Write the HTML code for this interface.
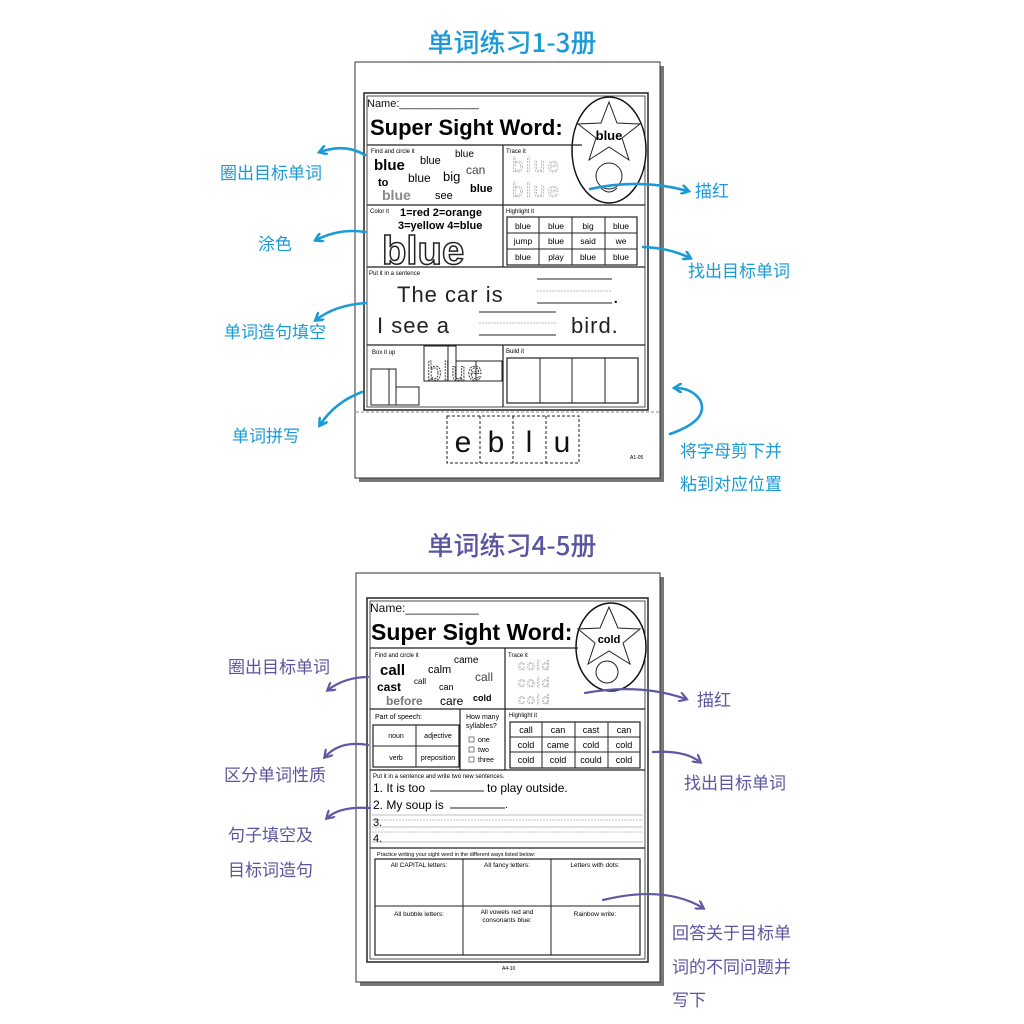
<!DOCTYPE html>
<html><head><meta charset="utf-8"><style>
html,body{margin:0;padding:0;background:#fff;}
svg{display:block;}
text{font-family:"Liberation Sans","Noto Sans CJK SC",sans-serif;}
.cn{font-family:"Noto Sans CJK SC","WenQuanYi Zen Hei",sans-serif;}
</style></head><body>
<svg width="1024" height="1024" viewBox="0 0 1024 1024" xmlns="http://www.w3.org/2000/svg">
<defs>
<marker id="hb" markerWidth="10" markerHeight="10" refX="7" refY="5" orient="auto" markerUnits="userSpaceOnUse"><path d="M0,0 L8,5 L0,10" fill="none" stroke="#1a9ad6" stroke-width="2.6" stroke-linecap="round"/></marker>
<marker id="hp" markerWidth="10" markerHeight="10" refX="7" refY="5" orient="auto" markerUnits="userSpaceOnUse"><path d="M0,0 L8,5 L0,10" fill="none" stroke="#5f58a3" stroke-width="2.2" stroke-linecap="round"/></marker>
</defs>

<!-- Titles -->
<text x="512" y="52" text-anchor="middle" class="cn" font-size="26" fill="#1a9ad6" font-weight="500">单词练习1-3册</text>
<text x="512" y="555" text-anchor="middle" class="cn" font-size="26" fill="#5b55a0" font-weight="500">单词练习4-5册</text>

<!-- ===== TOP PAGE ===== -->
<rect x="359" y="66" width="305" height="416" fill="#777"/>
<rect x="355" y="62" width="305" height="416" fill="#fff" stroke="#333" stroke-width="1"/>
<rect x="364" y="93" width="284" height="317" fill="none" stroke="#222" stroke-width="1.5"/>
<rect x="367" y="96" width="278" height="311" fill="none" stroke="#222" stroke-width="0.8"/>
<text x="367" y="107" font-size="11" fill="#111">Name:_____________</text>
<text x="370" y="135" font-size="22" font-weight="bold" fill="#000">Super Sight Word:</text>
<!-- oval -->
<ellipse cx="609" cy="150" rx="37" ry="53" fill="#fff" stroke="#111" stroke-width="1.5"/>
<path d="M609,102 L617,123 L640,124 L622,138 L629,160 L609,147 L589,160 L596,138 L578,124 L601,123 Z" fill="#fff" stroke="#222"/>
<text x="609" y="140" text-anchor="middle" font-size="13" font-weight="bold">blue</text>
<circle cx="609" cy="176" r="13" fill="#fff" stroke="#222"/>
<path d="M601,188 Q609,196 617,188" fill="none" stroke="#222"/>
<!-- grid lines -->
<line x1="367" y1="145" x2="582" y2="145" stroke="#222" stroke-width="1.2"/>
<line x1="367" y1="205" x2="645" y2="205" stroke="#222" stroke-width="1.2"/>
<line x1="367" y1="267" x2="645" y2="267" stroke="#222" stroke-width="1.2"/>
<line x1="367" y1="345" x2="645" y2="345" stroke="#222" stroke-width="1.2"/>
<line x1="503" y1="145" x2="503" y2="267" stroke="#222" stroke-width="1.2"/>
<line x1="503" y1="345" x2="503" y2="407" stroke="#222" stroke-width="1.2"/>
<!-- find -->
<text x="371" y="153" font-size="6">Find and circle it</text>
<text x="374" y="170" font-size="15" font-weight="bold">blue</text>
<text x="420" y="164" font-size="11">blue</text>
<text x="455" y="157" font-size="10">blue</text>
<text x="466" y="174" font-size="12" fill="#444">can</text>
<text x="378" y="186" font-size="11" font-weight="bold">to</text>
<text x="408" y="182" font-size="12">blue</text>
<text x="443" y="181" font-size="13">big</text>
<text x="470" y="192" font-size="11" font-weight="bold">blue</text>
<text x="382" y="200" font-size="14" font-weight="bold" fill="#888">blue</text>
<text x="435" y="199" font-size="11">see</text>
<!-- trace -->
<text x="506" y="153" font-size="6">Trace it</text>
<text x="512" y="172" font-size="20" fill="none" stroke="#999" stroke-width="0.6" stroke-dasharray="2 1" letter-spacing="3">blue</text>
<text x="512" y="197" font-size="20" fill="none" stroke="#999" stroke-width="0.6" stroke-dasharray="2 1" letter-spacing="3">blue</text>
<!-- color -->
<text x="370" y="213" font-size="6">Color it</text>
<text x="400" y="216" font-size="11" font-weight="bold">1=red 2=orange</text>
<text x="398" y="229" font-size="11" font-weight="bold">3=yellow 4=blue</text>
<text x="382" y="264" font-size="40" font-weight="bold" fill="#fff" stroke="#222" stroke-width="1.5">blue</text>
<!-- highlight -->
<text x="506" y="213" font-size="6">Highlight it</text>
<rect x="507" y="217" width="130" height="48" fill="none" stroke="#222" stroke-width="1.2"/>
<g stroke="#222" stroke-width="1"><line x1="539" y1="217" x2="539" y2="265"/><line x1="572" y1="217" x2="572" y2="265"/><line x1="605" y1="217" x2="605" y2="265"/><line x1="507" y1="233" x2="637" y2="233"/><line x1="507" y1="249" x2="637" y2="249"/></g>
<g font-size="8.5" text-anchor="middle">
<text x="523" y="229">blue</text><text x="556" y="229">blue</text><text x="588" y="229">big</text><text x="621" y="229">blue</text>
<text x="523" y="244">jump</text><text x="556" y="244">blue</text><text x="588" y="244">said</text><text x="621" y="244">we</text>
<text x="523" y="260">blue</text><text x="556" y="260">play</text><text x="588" y="260">blue</text><text x="621" y="260">blue</text></g>
<!-- sentence -->
<text x="369" y="275" font-size="6">Put it in a sentence</text>
<text x="397" y="302" font-size="22" fill="#222" letter-spacing="1">The  car  is</text>
<line x1="537" y1="279" x2="612" y2="279" stroke="#222"/><line x1="537" y1="291" x2="612" y2="291" stroke="#bbb" stroke-dasharray="2 1"/><line x1="537" y1="303" x2="612" y2="303" stroke="#222"/>
<text x="613" y="303" font-size="20">.</text>
<text x="377" y="333" font-size="22" fill="#222" letter-spacing="1">I  see  a</text>
<line x1="479" y1="312" x2="556" y2="312" stroke="#222"/><line x1="479" y1="323" x2="556" y2="323" stroke="#bbb" stroke-dasharray="2 1"/><line x1="479" y1="335" x2="556" y2="335" stroke="#222"/>
<text x="571" y="333" font-size="22" fill="#222" letter-spacing="1">bird.</text>
<!-- box it up -->
<text x="372" y="354" font-size="6">Box it up</text>
<rect x="371" y="369" width="18" height="36" fill="none" stroke="#222"/>
<rect x="389" y="369" width="7" height="36" fill="none" stroke="#222"/>
<rect x="396" y="387" width="23" height="18" fill="none" stroke="#222"/>
<rect x="424" y="346" width="24" height="35" fill="none" stroke="#222"/>
<rect x="448" y="346" width="8" height="35" fill="none" stroke="#222"/>
<rect x="456" y="361" width="20" height="20" fill="none" stroke="#222"/>
<rect x="476" y="361" width="26" height="20" fill="none" stroke="#222"/>
<text x="427" y="380" font-size="26" fill="none" stroke="#444" stroke-dasharray="2 1" letter-spacing="2">blue</text>
<!-- build -->
<text x="506" y="353" font-size="6">Build it</text>
<rect x="507" y="358" width="131" height="45" fill="none" stroke="#222" stroke-width="1.2"/>
<g stroke="#222"><line x1="540" y1="358" x2="540" y2="403"/><line x1="572" y1="358" x2="572" y2="403"/><line x1="605" y1="358" x2="605" y2="403"/></g>
<line x1="356" y1="412" x2="659" y2="412" stroke="#888" stroke-dasharray="3 2"/>
<rect x="447" y="416" width="132" height="47" fill="none" stroke="#222" stroke-dasharray="3 2"/>
<g stroke="#222" stroke-dasharray="3 2"><line x1="480" y1="416" x2="480" y2="463"/><line x1="513" y1="416" x2="513" y2="463"/><line x1="546" y1="416" x2="546" y2="463"/></g>
<g font-size="30" text-anchor="middle" fill="#111"><text x="463" y="452">e</text><text x="496" y="452">b</text><text x="529" y="452">l</text><text x="562" y="452">u</text></g>
<text x="630" y="459" font-size="5">A1-05</text>

<!-- top arrows -->
<g fill="none" stroke="#1a9ad6" stroke-width="2.6" stroke-linecap="round">
<path d="M365,155 Q345,143 320,152" marker-end="url(#hb)"/>
<path d="M365,232 Q340,228 316,240" marker-end="url(#hb)"/>
<path d="M366,303 Q335,305 316,320" marker-end="url(#hb)"/>
<path d="M362,392 Q335,402 320,425" marker-end="url(#hb)"/>
<path d="M590,189 Q640,178 688,191" marker-end="url(#hb)"/>
<path d="M643,247 Q670,248 690,258" marker-end="url(#hb)"/>
<path d="M670,434 Q710,420 700,400 Q692,388 675,388" marker-end="url(#hb)"/>
</g>
<g class="cn" font-size="17" fill="#1a9ad6">
<text x="220" y="179">圈出目标单词</text>
<text x="258" y="250">涂色</text>
<text x="224" y="338">单词造句填空</text>
<text x="232" y="442">单词拼写</text>
<text x="695" y="197">描红</text>
<text x="688" y="277">找出目标单词</text>
<text x="680" y="457">将字母剪下并</text>
<text x="680" y="490">粘到对应位置</text>
</g>

<!-- ===== BOTTOM PAGE ===== -->
<rect x="360" y="577" width="304" height="409" fill="#777"/>
<rect x="356" y="573" width="304" height="409" fill="#fff" stroke="#333"/>
<rect x="367" y="598" width="281" height="364" fill="none" stroke="#222" stroke-width="1.5"/>
<rect x="370" y="601" width="275" height="358" fill="none" stroke="#222" stroke-width="0.8"/>
<text x="370" y="612" font-size="12" fill="#111">Name:___________</text>
<text x="371" y="640" font-size="23" font-weight="bold">Super Sight Word:</text>
<ellipse cx="611" cy="647" rx="35" ry="44" fill="#fff" stroke="#111" stroke-width="1.5"/>
<path d="M609,607 L618,628 L640,629 L623,643 L630,664 L609,651 L588,664 L595,643 L578,629 L600,628 Z" fill="#fff" stroke="#222"/>
<text x="609" y="643" text-anchor="middle" font-size="11" font-weight="bold">cold</text>
<circle cx="607" cy="672" r="11" fill="#fff" stroke="#222"/>
<g stroke="#222" stroke-width="1.2">
<line x1="370" y1="648" x2="578" y2="648"/>
<line x1="370" y1="709" x2="645" y2="709"/>
<line x1="370" y1="770" x2="645" y2="770"/>
<line x1="370" y1="848" x2="645" y2="848"/>
<line x1="505" y1="648" x2="505" y2="770"/>
<line x1="460" y1="709" x2="460" y2="770"/>
</g>
<text x="375" y="657" font-size="6">Find and circle it</text>
<text x="380" y="675" font-size="15" font-weight="bold">call</text>
<text x="428" y="673" font-size="11">calm</text>
<text x="454" y="663" font-size="10">came</text>
<text x="475" y="681" font-size="12" fill="#444">call</text>
<text x="377" y="691" font-size="12" font-weight="bold">cast</text>
<text x="414" y="684" font-size="8">call</text>
<text x="439" y="690" font-size="9">can</text>
<text x="473" y="701" font-size="9" font-weight="bold">cold</text>
<text x="386" y="705" font-size="12" font-weight="bold" fill="#777">before</text>
<text x="440" y="705" font-size="12">care</text>
<text x="508" y="657" font-size="6">Trace it</text>
<g font-size="14" fill="none" stroke="#999" stroke-width="0.6" stroke-dasharray="2 1" letter-spacing="2">
<text x="518" y="670">cold</text><text x="518" y="687">cold</text><text x="518" y="704">cold</text></g>
<text x="375" y="719" font-size="7">Part of speech:</text>
<rect x="373" y="725" width="86" height="42" fill="none" stroke="#222" stroke-width="1.2"/>
<line x1="416" y1="725" x2="416" y2="767" stroke="#222"/><line x1="373" y1="746" x2="459" y2="746" stroke="#222"/>
<g font-size="7" text-anchor="middle"><text x="396" y="738">noun</text><text x="438" y="738">adjective</text><text x="396" y="760">verb</text><text x="438" y="760">preposition</text></g>
<text x="466" y="719" font-size="7">How many</text><text x="466" y="728" font-size="7">syllables?</text>
<g font-size="7"><rect x="469" y="737" width="5" height="5" fill="none" stroke="#333" stroke-width="0.6"/><text x="478" y="742">one</text>
<rect x="469" y="747" width="5" height="5" fill="none" stroke="#333" stroke-width="0.6"/><text x="478" y="752">two</text>
<rect x="469" y="757" width="5" height="5" fill="none" stroke="#333" stroke-width="0.6"/><text x="478" y="762">three</text></g>
<text x="509" y="717" font-size="6">Highlight it</text>
<rect x="510" y="722" width="130" height="46" fill="none" stroke="#222" stroke-width="1.2"/>
<g stroke="#222"><line x1="542" y1="722" x2="542" y2="768"/><line x1="575" y1="722" x2="575" y2="768"/><line x1="608" y1="722" x2="608" y2="768"/><line x1="510" y1="737" x2="640" y2="737"/><line x1="510" y1="752" x2="640" y2="752"/></g>
<g font-size="9" text-anchor="middle">
<text x="526" y="733">call</text><text x="558" y="733">can</text><text x="591" y="733">cast</text><text x="624" y="733">can</text>
<text x="526" y="748">cold</text><text x="558" y="748">came</text><text x="591" y="748">cold</text><text x="624" y="748">cold</text>
<text x="526" y="763">cold</text><text x="558" y="763">cold</text><text x="591" y="763">could</text><text x="624" y="763">cold</text></g>
<text x="373" y="778" font-size="6">Put it in a sentence and write two new sentences.</text>
<text x="373" y="792" font-size="12">1. It is too</text>
<line x1="430" y1="791" x2="484" y2="791" stroke="#222"/>
<text x="487" y="792" font-size="12">to play outside.</text>
<text x="373" y="809" font-size="12">2. My soup is</text>
<line x1="450" y1="808" x2="505" y2="808" stroke="#222"/><text x="505" y="808" font-size="10">.</text>
<g stroke="#aaa" stroke-width="0.7"><line x1="372" y1="815" x2="643" y2="815"/><line x1="372" y1="820" x2="643" y2="820" stroke-dasharray="2 1"/><line x1="372" y1="827" x2="643" y2="827"/><line x1="372" y1="832" x2="643" y2="832" stroke-dasharray="2 1"/><line x1="372" y1="842" x2="643" y2="842"/></g>
<text x="373" y="826" font-size="11">3.</text><text x="373" y="842" font-size="11">4.</text>
<text x="377" y="856" font-size="5.5">Practice writing your sight word in the different ways listed below:</text>
<rect x="375" y="859" width="265" height="96" fill="none" stroke="#222" stroke-width="1.2"/>
<g stroke="#222"><line x1="463" y1="859" x2="463" y2="955"/><line x1="551" y1="859" x2="551" y2="955"/><line x1="375" y1="906" x2="640" y2="906"/></g>
<g font-size="6.5" text-anchor="middle"><text x="419" y="867">All CAPITAL letters:</text><text x="507" y="867">All fancy letters:</text><text x="595" y="867">Letters with dots:</text>
<text x="419" y="916">All bubble letters:</text><text x="507" y="914">All vowels red and</text><text x="507" y="922">consonants blue:</text><text x="595" y="916">Rainbow write:</text></g>
<text x="502" y="970" font-size="5">A4-10</text>

<g fill="none" stroke="#5f58a3" stroke-width="2.2" stroke-linecap="round">
<path d="M368,677 Q345,677 328,690" marker-end="url(#hp)"/>
<path d="M368,745 Q340,740 325,757" marker-end="url(#hp)"/>
<path d="M370,808 Q340,806 327,818" marker-end="url(#hp)"/>
<path d="M585,693 Q640,683 686,699" marker-end="url(#hp)"/>
<path d="M653,752 Q685,750 700,762" marker-end="url(#hp)"/>
<path d="M603,900 Q665,885 703,908" marker-end="url(#hp)"/>
</g>
<g class="cn" font-size="17" fill="#5b55a0">
<text x="228" y="673">圈出目标单词</text>
<text x="224" y="781">区分单词性质</text>
<text x="228" y="841">句子填空及</text>
<text x="228" y="876">目标词造句</text>
<text x="697" y="706">描红</text>
<text x="684" y="789">找出目标单词</text>
<text x="672" y="939">回答关于目标单</text>
<text x="672" y="973">词的不同问题并</text>
<text x="672" y="1006">写下</text>
</g>
</svg>
</body></html>
